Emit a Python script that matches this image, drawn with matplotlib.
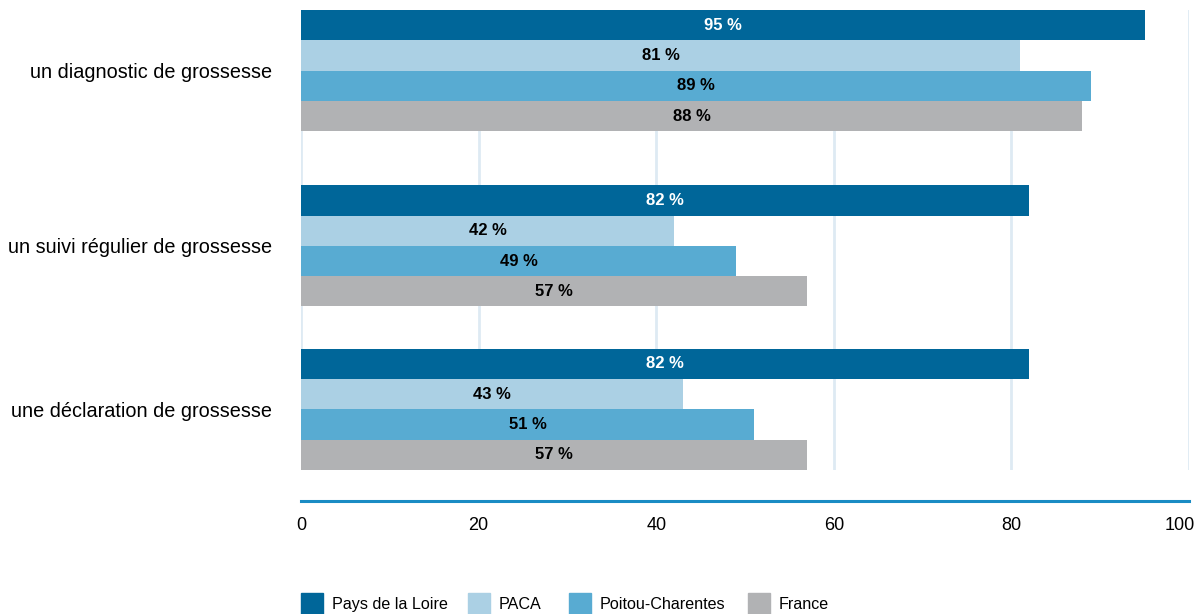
import matplotlib.pyplot as plt
import matplotlib.transforms as mtransforms
from matplotlib.patches import Rectangle
import numpy as np

plt.rcParams['font.family'] = ['Liberation Sans', 'DejaVu Sans']

categories = ['un diagnostic de grossesse',
              'un suivi régulier de grossesse',
              'une déclaration de grossesse']
series = ['Pays de la Loire', 'PACA', 'Poitou-Charentes', 'France']
pays_loire = [95, 82, 82]
paca = [81, 42, 43]
poitou = [89, 49, 51]
france = [88, 57, 57]
x_ticks = [0, 20, 40, 60, 80, 100]

colors = ['#006699', '#abd0e4', '#58abd2', '#b1b2b4']
text_colors = ['white', 'black', 'black', 'black']

W, H = 1198, 614
fig = plt.figure(figsize=(W / 100, H / 100), dpi=100)
ax = fig.add_axes([301 / W, 1 - 470 / H, 888 / W, 460 / H])

# group centres (slightly uneven, as in the source layout)
y = np.array([0, 1.035, 2.0])
bar_h = 0.1786
for i, (name, vals) in enumerate(zip(series, [pays_loire, paca, poitou, france])):
    ypos = y - 1.5 * bar_h + i * bar_h
    ax.barh(ypos, vals, height=bar_h, color=colors[i], zorder=2)
    for yy, v in zip(ypos, vals):
        ax.text(v / 2, yy, f'{v} %', ha='center', va='center',
                color=text_colors[i], fontsize=12, fontweight='bold', zorder=3)

ax.set_xlim(0, 100)
ax.set_ylim(2.358, -0.358)
ax.set_xticks(x_ticks)
ax.set_yticks(y)
ax.set_yticklabels(categories, fontsize=14.3)
ax.tick_params(axis='y', length=0, pad=21)
ax.tick_params(axis='x', length=0, labelbottom=False)
ax.xaxis.grid(True, color='#deeaf3', linewidth=2, zorder=0)
ax.set_axisbelow(True)

# x tick labels drawn by hand so the last one stays inside the figure
xt = ax.get_xaxis_transform()
for t in x_ticks:
    if t == x_ticks[-1]:
        tr = xt + mtransforms.ScaledTranslation(6 / 100, 0, fig.dpi_scale_trans)
        ax.text(t, -55 / 460, str(t), transform=tr, ha='right', va='center',
                fontsize=13, clip_on=False)
    else:
        ax.text(t, -55 / 460, str(t), transform=xt, ha='center', va='center',
                fontsize=13, clip_on=False)

for s in ['top', 'right', 'left']:
    ax.spines[s].set_visible(False)
ax.spines['bottom'].set_position(('outward', 22.3))
ax.spines['bottom'].set_color('#1a8cc4')
ax.spines['bottom'].set_linewidth(2.2)

# legend along the bottom edge
leg_x = [301, 468, 569, 748]
for x0, name, c in zip(leg_x, series, colors):
    fig.add_artist(Rectangle((x0 / W, -1 / H), 22 / W, 22 / H,
                             transform=fig.transFigure, color=c))
    fig.text((x0 + 31) / W, 4.7 / H, name, fontsize=11.6, va='baseline', ha='left')

fig.savefig('out.png', dpi=100)
